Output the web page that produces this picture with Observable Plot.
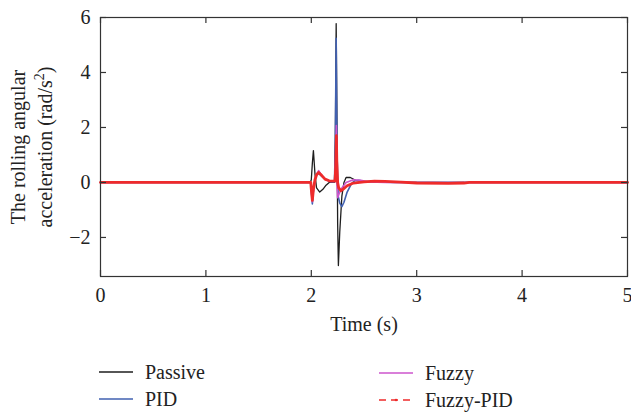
<!DOCTYPE html>
<html><head><meta charset="utf-8">
<script src="https://cdn.jsdelivr.net/npm/d3@7"></script>
<script src="https://cdn.jsdelivr.net/npm/@observablehq/plot@0.6"></script>
<style>
body{margin:0;background:#fff;}
#wrap{position:relative;width:631px;height:416px;font-family:"Liberation Serif","DejaVu Serif",serif;color:#222;}
.leg{position:absolute;font-size:20px;line-height:1;display:flex;align-items:center;}
.leg svg{margin-right:12px;}
</style></head><body><div id="wrap"></div>
<script>
// ---- data (time in s, rolling angular acceleration in rad/s^2) ----
const passiveT = [0, 1.99, 2.0, 2.01, 2.02, 2.035, 2.05, 2.08, 2.11, 2.14, 2.17, 2.22, 2.228, 2.236, 2.244, 2.25, 2.257, 2.27, 2.29, 2.31, 2.33, 2.37, 2.42, 2.5, 2.6, 2.8, 5];
const passiveV = [0, 0, 0.1, 0.7, 1.16, 0.3, -0.2, -0.35, -0.25, -0.1, 0, 0, 1.6, 5.78, 2.0, -1.5, -3.02, -1.8, -0.5, 0, 0.18, 0.18, 0.08, 0.03, 0.02, 0, 0];

const pidT = [0, 1.995, 2.0, 2.01, 2.02, 2.035, 2.05, 2.07, 2.1, 2.14, 2.18, 2.22, 2.228, 2.236, 2.244, 2.255, 2.27, 2.29, 2.31, 2.34, 2.38, 2.41, 2.45, 2.5, 2.6, 2.8, 5];
const pidV = [0, 0, -0.3, -0.78, -0.3, 0.1, 0.28, 0.33, 0.22, 0.1, 0.03, 0.02, 1.5, 5.24, 1.0, -0.5, -0.75, -0.88, -0.72, -0.35, -0.05, 0.06, 0.08, 0.04, 0.02, 0, 0];

const fuzzyT = [0, 1.995, 2.0, 2.01, 2.02, 2.035, 2.05, 2.07, 2.1, 2.14, 2.18, 2.225, 2.232, 2.238, 2.244, 2.25, 2.265, 2.29, 2.33, 2.4, 2.47, 2.55, 2.7, 5];
const fuzzyV = [0, 0, -0.25, -0.7, -0.3, 0.1, 0.3, 0.43, 0.25, 0.1, 0.04, 0.05, 1.0, 2.07, -0.1, -0.55, -0.4, -0.2, 0, 0.1, 0.08, 0.02, 0, 0];

const fpidT = [0, 1.995, 2.0, 2.01, 2.02, 2.035, 2.05, 2.07, 2.1, 2.13, 2.17, 2.225, 2.232, 2.238, 2.242, 2.25, 2.26, 2.28, 2.3, 2.34, 2.4, 2.5, 2.6, 2.7, 2.85, 3.0, 3.3, 3.45, 3.5, 5];
const fpidV = [0, 0, -0.25, -0.65, -0.25, 0.1, 0.28, 0.36, 0.25, 0.12, 0.06, 0.05, 0.6, 1.7, 0.8, 0, -0.2, -0.3, -0.25, -0.12, -0.02, 0.02, 0.05, 0.04, 0.01, -0.02, -0.03, -0.02, 0, 0];

const xTicks = [0, 1, 2, 3, 4, 5];
const yTicks = [-2, 0, 2, 4, 6];
const seriesNames = ["Passive", "PID", "Fuzzy", "Fuzzy-PID"];
const seriesColors = ["#1e1e1e", "#4160b0", "#cc55cc", "#ee2b2b"];

const toRows = (T, V) => T.map((t, i) => ({t, v: V[i]}));
const passive = toRows(passiveT, passiveV);
const pid = toRows(pidT, pidV);
const fuzzy = toRows(fuzzyT, fuzzyV);
const fpid = toRows(fpidT, fpidV);

const W = 631, H = 340, mL = 100, mR = 4, mT = 17, mB = 64;
const plotW = W - mL - mR, plotH = H - mT - mB, tk = 6;
const tickStyle = {stroke: "#333", strokeWidth: 1.2};

const font = '"Liberation Serif","DejaVu Serif",serif';
const chart = Plot.plot({
  width: W, height: H,
  marginLeft: mL, marginRight: mR, marginTop: mT, marginBottom: mB,
  style: {fontFamily: font, fontSize: "20px", color: "#222", background: "#fff", overflow: "visible"},
  x: {domain: [0, 5], ticks: xTicks},
  y: {domain: [-3.42, 6], ticks: yTicks},
  marks: [
    Plot.line(passive, {x: "t", y: "v", stroke: seriesColors[0], strokeWidth: 1.3}),
    Plot.line(pid, {x: "t", y: "v", stroke: seriesColors[1], strokeWidth: 1.6}),
    Plot.line(fuzzy, {x: "t", y: "v", stroke: seriesColors[2], strokeWidth: 1.6}),
    Plot.line(fpid, {x: "t", y: "v", stroke: seriesColors[3], strokeWidth: 2.8}),
    Plot.frame({stroke: "#333", strokeWidth: 1.2}),
    Plot.axisX(xTicks, {anchor: "bottom", tickSize: 0, tickPadding: 11, label: null, tickFormat: d => String(d)}),
    Plot.axisY(yTicks, {anchor: "left", tickSize: 0, tickPadding: 10, label: null, tickFormat: d => d < 0 ? "\u2212" + Math.abs(d) : String(d)}),
    // inward tick marks on all four sides
    Plot.tickX(xTicks, {x: d => d, insetTop: plotH - tk, ...tickStyle}),
    Plot.tickX(xTicks, {x: d => d, insetBottom: plotH - tk, ...tickStyle}),
    Plot.tickY(yTicks, {y: d => d, insetRight: plotW - tk, ...tickStyle}),
    Plot.tickY(yTicks, {y: d => d, insetLeft: plotW - tk, ...tickStyle}),
    Plot.text(["Time (s)"], {frameAnchor: "bottom", dy: 54, fontSize: 20, fill: "#222"})
  ]
});

const wrap = document.getElementById("wrap");
wrap.appendChild(chart);

// y-axis title (two lines, with superscript)
const svg = d3.select(chart);
const g = svg.append("g").attr("font-family", font).attr("font-size", 20).attr("fill", "#222").attr("text-anchor", "middle");
g.append("text").attr("transform", "translate(25,147) rotate(-90)").text("The rolling angular");
const t2 = g.append("text").attr("transform", "translate(52,147) rotate(-90)");
t2.append("tspan").text("acceleration (rad/s");
t2.append("tspan").attr("dy", -8).attr("font-size", 14).text("2");
t2.append("tspan").attr("dy", 8).text(")");

// legend
const legPos = [[99, 372], [99, 399], [379, 373], [379, 400]];
seriesNames.forEach((name, i) => {
  const d = document.createElement("div");
  d.className = "leg";
  d.style.left = legPos[i][0] + "px";
  d.style.top = (legPos[i][1] - 11) + "px";
  d.style.height = "22px";
  const dash = i === 3 ? 'stroke-dasharray="7,5"' : "";
  const dot = i === 3 ? `<circle cx="17" cy="11" r="1.3" fill="${seriesColors[i]}"/>` : "";
  d.innerHTML = `<svg width="34" height="22"><line x1="0" x2="34" y1="11" y2="11" stroke="${seriesColors[i]}" stroke-width="${i === 3 ? 1.6 : 1.4}" ${dash}/>${dot}</svg><span>${name}</span>`;
  wrap.appendChild(d);
});
</script>
</body></html>
